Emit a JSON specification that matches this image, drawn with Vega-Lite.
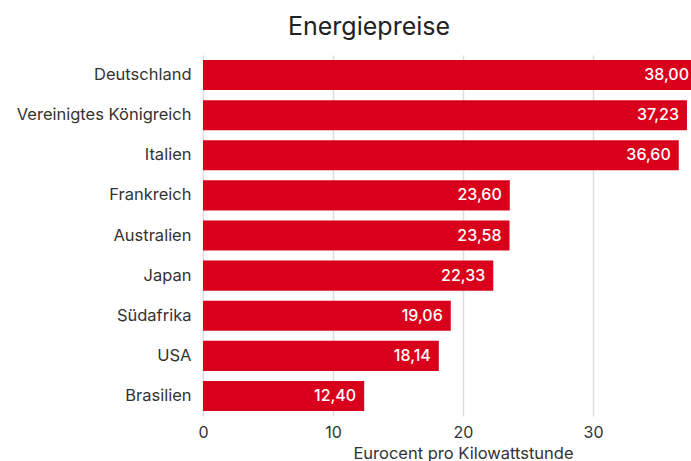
{
  "$schema": "https://vega.github.io/schema/vega-lite/v6.json",
  "autosize": {"type": "none"},
  "width": 488,
  "height": 361,
  "padding": {"left": 203, "top": 55, "right": 0, "bottom": 45},
  "title": {
    "text": "Energiepreise",
    "anchor": "start",
    "frame": "group",
    "dx": 85,
    "offset": 15,
    "fontSize": 25,
    "fontWeight": "normal",
    "font": "Inter",
    "color": "#222222"
  },
  "data": {
    "values": [
      {"land": "Deutschland", "preis": 38.00},
      {"land": "Vereinigtes Königreich", "preis": 37.23},
      {"land": "Italien", "preis": 36.60},
      {"land": "Frankreich", "preis": 23.60},
      {"land": "Australien", "preis": 23.58},
      {"land": "Japan", "preis": 22.33},
      {"land": "Südafrika", "preis": 19.06},
      {"land": "USA", "preis": 18.14},
      {"land": "Brasilien", "preis": 12.40}
    ]
  },
  "encoding": {
    "y": {
      "field": "land",
      "type": "nominal",
      "sort": null,
      "scale": {"paddingInner": 0.25, "paddingOuter": 0.125},
      "axis": {
        "title": null,
        "domain": false,
        "ticks": false,
        "labelPadding": 12,
        "labelFontSize": 16.5,
        "labelFont": "Inter",
        "labelColor": "#333333"
      }
    },
    "x": {
      "field": "preis",
      "type": "quantitative",
      "scale": {"domain": [0, 37.54], "nice": false},
      "axis": {
        "values": [0, 10, 20, 30],
        "title": "Eurocent pro Kilowattstunde",
        "titleFont": "Inter",
        "titleFontSize": 16.5,
        "titleFontWeight": "normal",
        "titleColor": "#333333",
        "titleX": 260,
        "titlePadding": 5,
        "domain": false,
        "ticks": false,
        "labelFlush": false,
        "labelPadding": 8,
        "labelFontSize": 16,
        "labelFont": "Inter",
        "labelColor": "#333333",
        "grid": true,
        "gridColor": "#dddddd",
        "gridWidth": 1.5
      }
    }
  },
  "layer": [
    {"mark": {"type": "bar", "color": "#d9001b", "clip": true}},
    {
      "mark": {"type": "text", "align": "right", "dx": -8, "color": "white", "fontSize": 16, "font": "Inter", "fontWeight": 500},
      "encoding": {"text": {"field": "preis", "type": "quantitative", "format": ".2f"}}
    }
  ],
  "config": {
    "view": {"stroke": null},
    "locale": {"number": {"decimal": ",", "thousands": ".", "grouping": [3], "currency": ["", " €"]}}
  }
}
